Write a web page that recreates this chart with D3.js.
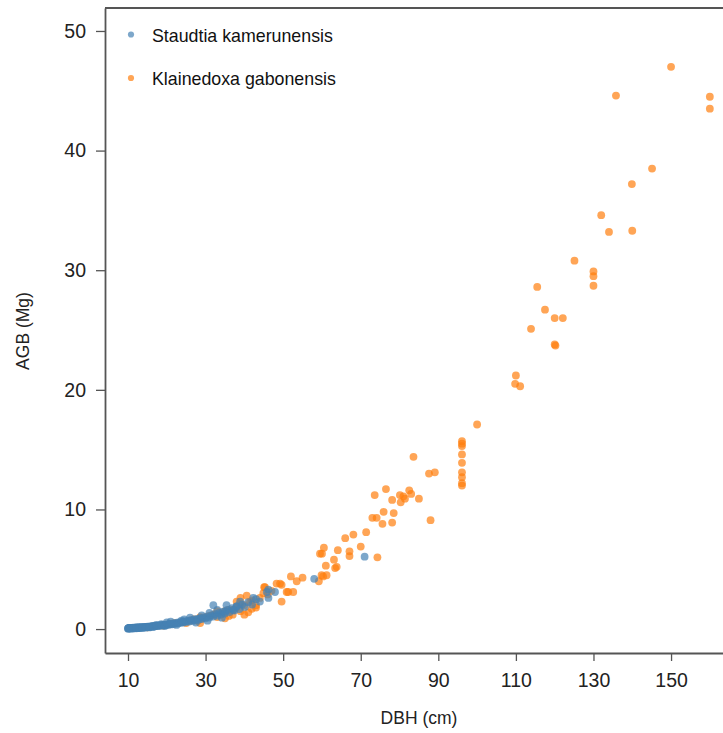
<!DOCTYPE html>
<html><head><meta charset="utf-8">
<script src="https://cdn.jsdelivr.net/npm/d3@7/dist/d3.min.js"></script>
<style>body{margin:0;background:#fff}svg{display:block;font-family:"Liberation Sans",Arial,sans-serif}</style>
</head><body><svg id="c" width="723" height="733"></svg>
<script>
const seriesNames = ["Staudtia kamerunensis", "Klainedoxa gabonensis"];
const xTicks = [10, 30, 50, 70, 90, 110, 130, 150];
const yTicks = [0, 10, 20, 30, 40, 50];

// Klainedoxa gabonensis: [DBH cm, AGB Mg]
const klainedoxa = [
 [150,47.0],[135.8,44.6],[160,44.5],[160,43.5],[145.1,38.5],[139.9,37.2],[132.0,34.6],[134.0,33.2],[140.0,33.3],
 [125.1,30.8],[130.0,29.9],[130.0,29.5],[130.0,28.7],[115.5,28.6],[117.5,26.7],[120.0,26.0],[122.1,26.0],[113.9,25.1],
 [120.0,23.8],[120.2,23.7],[110.0,21.2],[109.8,20.5],[111.1,20.3],[100.0,17.1],
 [96.1,15.7],[96.1,15.5],[96.1,15.3],[96.1,14.6],[96.1,13.9],[96.1,13.1],[96.1,12.7],[96.1,12.2],[96.1,12.0],
 [83.6,14.4],[87.6,13.0],[89.1,13.1],[76.5,11.7],[73.6,11.2],[78.1,10.8],[80.1,11.2],[81.0,11.1],[82.5,11.6],[83.0,11.3],
 [81.4,10.9],[80.3,10.6],[85.0,10.9],[78.5,9.7],[75.9,9.8],[73.0,9.3],[74.1,9.3],[75.6,8.8],[78.1,8.9],[88.0,9.1],
 [66.0,7.6],[68.1,7.9],[71.4,8.1],[70.0,6.9],[67.1,6.5],[67.1,6.1],[74.3,6.0],
 [60.5,6.8],[59.5,6.3],[60.0,6.3],[64.1,6.6],[63.1,5.8],[61.0,5.3],[63.8,5.2],[63.4,5.1],[61.2,4.5],[59.9,4.5],
 [52.0,4.4],[53.5,4.0],[55.0,4.3],[59.2,4.0],[60.3,4.4],[45.1,3.5],[48.3,3.8],[49.2,3.8],
 [50.9,3.1],[52.6,3.1],[49.6,3.7],[49.6,2.3],[51.3,3.1],[45.3,3.5],[44.9,3.0],[40.6,2.8],[41.5,2.3],[38.9,2.1],
 [41.9,1.7],[37.1,1.6],[28.6,0.5],[28.6,1.0],
 [15,0.15],[17,0.25],[19,0.3],[21,0.45],[22,0.5],[24,0.6],[25,0.5],[26,0.7],[27,0.8],[28,0.7],[29,0.9],[30,1.0],
 [31,1.1],[32,1.2],[33,1.0],[34,1.3],[35,1.5],[36,1.6],[37,1.2],[38,1.8],[39,1.5],[40,2.0],[42,2.4],[43,2.0],
 [44,2.6],[46,2.9],[47,3.2],[35,0.9],[36,1.1],[33,1.5],[38,2.3],[40,1.2],[41,1.4],[43,1.8],[39,2.6]
];

// Staudtia kamerunensis: [DBH cm, AGB Mg]
const staudtia = [
 [10.0,0.06],[10.1,0.08],[10.2,0.05],[10.3,0.07],[10.4,0.09],[10.5,0.06],[10.6,0.08],[10.8,0.07],[10.9,0.10],[11.0,0.08],
 [11.1,0.06],[11.2,0.09],[11.3,0.11],[11.5,0.08],[11.6,0.10],[11.7,0.12],[11.9,0.09],[12.0,0.11],[12.1,0.13],[12.3,0.10],
 [12.4,0.12],[12.5,0.14],[12.7,0.11],[12.8,0.13],[13.0,0.15],[13.1,0.12],[13.3,0.14],[13.4,0.16],[13.6,0.13],[13.8,0.15],
 [14.0,0.17],[14.1,0.14],[14.3,0.18],[14.5,0.16],[14.7,0.19],[14.9,0.17],[15.0,0.20],[15.2,0.18],[15.4,0.21],[15.6,0.19],
 [15.8,0.23],[16.0,0.21],[16.2,0.24],[16.4,0.22],[16.6,0.26],[16.8,0.23],[17.0,0.27],[17.2,0.25],[17.5,0.29],[17.7,0.26],
 [18.0,0.30],[18.2,0.28],[18.5,0.33],[18.8,0.30],[19.0,0.35],[19.3,0.32],[19.6,0.37],[19.9,0.34],[20.2,0.40],[20.5,0.36],
 [20.8,0.43],[21.1,0.39],[21.4,0.46],[21.7,0.42],[22.0,0.50],[22.3,0.45],[22.6,0.53],[23.0,0.48],[23.3,0.57],[23.6,0.52],
 [24.0,0.61],[24.3,0.55],[24.7,0.65],[25.0,0.60],[25.4,0.70],[25.8,0.63],[26.2,0.75],[26.6,0.68],[27.0,0.80],[27.4,0.72],
 [27.8,0.86],[28.2,0.78],[28.6,0.92],[29.0,0.84],[29.5,0.98],[30.0,0.90],[30.5,1.05],[31.0,0.96],[31.5,1.15],[32.0,1.05],
 [32.5,1.25],[33.0,1.12],[33.5,1.35],[34.0,1.22],[34.5,1.45],[35.0,1.30],[35.6,1.60],[36.2,1.42],[36.8,1.75],[37.4,1.55],
 [38.0,1.90],[38.7,1.68],[39.4,2.05],[40.1,1.85],[41.0,2.25],[42.0,2.05],[43.0,2.50],[44.0,2.30],
 [10.0,0.03],[10.3,0.10],[10.7,0.04],[11.4,0.05],[12.2,0.07],[12.9,0.09],[13.7,0.10],[14.6,0.12],[15.5,0.14],[16.5,0.17],
 [17.3,0.35],[18.6,0.42],[19.5,0.25],[20.0,0.55],[21.0,0.62],[22.5,0.35],[23.8,0.70],[24.5,0.80],[26.0,0.95],[27.5,0.55],
 [29.0,1.15],[30.5,0.70],[31.0,1.35],[33.0,1.60],[34.2,0.95],
 [32.0,2.0],[35.4,2.0],[38.0,1.9],[35.0,1.45],[38.9,2.3],[37.1,1.6],[42.3,2.6],[46.2,2.6],[45.8,3.1],[47.9,3.1],[46.2,3.3],
 [58.0,4.2],[71.0,6.05]
];

const colors = ["#4682b4", "#ff7f0e"];
const font = '"Liberation Sans",Arial,sans-serif';
const svg = d3.select("#c");
const x = d3.scaleLinear().domain([4.07, 165.97]).range([105, 733]);
const y = d3.scaleLinear().domain([-2.0, 51.92]).range([653, 8]);

// top frame line
svg.append("line").attr("x1", x.range()[0]).attr("x2", x.range()[1])
  .attr("y1", y.range()[1]).attr("y2", y.range()[1])
  .attr("stroke", "#555").attr("stroke-width", 1.8);

// points: orange first, blue on top
svg.append("g").selectAll("circle").data(klainedoxa).join("circle")
  .attr("cx", d => x(d[0])).attr("cy", d => y(d[1])).attr("r", 3.9)
  .attr("fill", colors[1]).attr("fill-opacity", 0.7);
svg.append("g").selectAll("circle").data(staudtia).join("circle")
  .attr("cx", d => x(d[0])).attr("cy", d => y(d[1])).attr("r", 3.9)
  .attr("fill", colors[0]).attr("fill-opacity", 0.7);

// axes
const xAxis = svg.append("g").attr("transform", `translate(0,${y.range()[0]})`)
  .call(d3.axisBottom(x).tickValues(xTicks).tickSize(8).tickPadding(12).tickSizeOuter(0));
const yAxis = svg.append("g").attr("transform", `translate(${x.range()[0]},0)`)
  .call(d3.axisLeft(y).tickValues(yTicks).tickSize(9).tickPadding(10).tickSizeOuter(0));
[xAxis, yAxis].forEach(a => {
  a.select(".domain").attr("stroke", "#555").attr("stroke-width", 1.8);
  a.selectAll(".tick line").attr("stroke", "#555").attr("stroke-width", 1.3);
  a.selectAll(".tick text").attr("font-size", 19.5).attr("fill", "#222").attr("font-family", font);
});

svg.append("text").attr("x", 419).attr("y", 724).attr("text-anchor", "middle")
  .attr("font-size", 17.5).attr("fill", "#222").text("DBH (cm)");
svg.append("text").attr("transform", "translate(29,331) rotate(-90)").attr("text-anchor", "middle")
  .attr("font-size", 17.5).attr("fill", "#222").text("AGB (Mg)");

// legend
const lg = svg.append("g");
seriesNames.forEach((n, i) => {
  lg.append("circle").attr("cx", 131).attr("cy", 34.5 + i * 43.5).attr("r", 3.1)
    .attr("fill", colors[i]).attr("fill-opacity", 0.7);
  lg.append("text").attr("x", 152).attr("y", 41.5 + i * 43).attr("font-size", 17.8).attr("fill", "#111").text(n);
});
</script></body></html>
